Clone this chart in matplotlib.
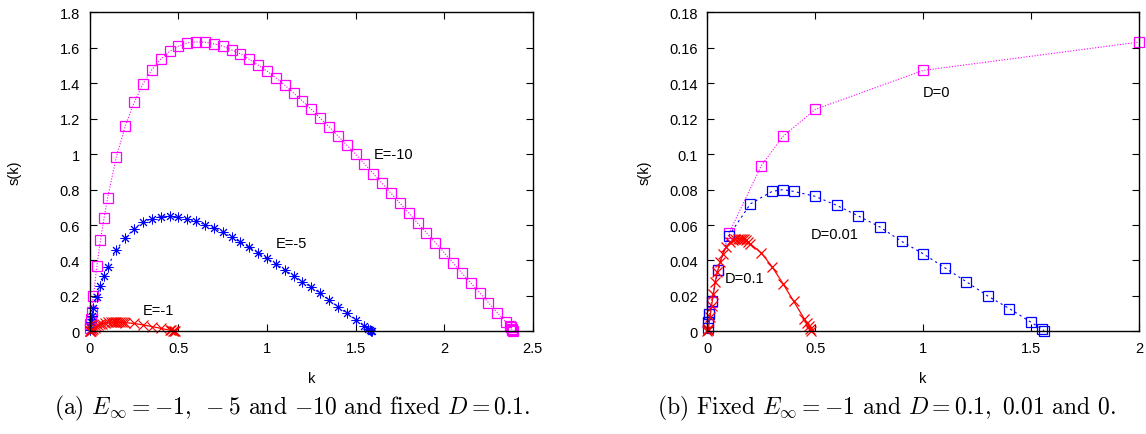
import numpy as np
import matplotlib
matplotlib.use('Agg')
import matplotlib.pyplot as plt

plt.rcParams['font.family'] = ['Liberation Sans', 'DejaVu Sans']
plt.rcParams['mathtext.fontset'] = 'cm'

# ---- panel (a): E = -1, -5, -10 with D = 0.1 ----
k_e10 = [0.001, 0.002, 0.005, 0.01, 0.02, 0.04, 0.06, 0.08, 0.1,
         0.15, 0.2, 0.25, 0.3, 0.35, 0.4, 0.45, 0.5, 0.55, 0.6, 0.65, 0.7,
         0.75, 0.8, 0.85, 0.9, 0.95, 1.0, 1.05, 1.1, 1.15, 1.2, 1.25, 1.3,
         1.35, 1.4, 1.45, 1.5, 1.55, 1.6, 1.65, 1.7, 1.75, 1.8, 1.85, 1.9,
         1.95, 2.0, 2.05, 2.1, 2.15, 2.2, 2.25, 2.3, 2.35,
         2.37, 2.375, 2.38, 2.385, 2.39]
s_e10 = [0.02, 0.04, 0.07, 0.11, 0.2, 0.37, 0.515, 0.64, 0.752,
         0.986, 1.159, 1.292, 1.397, 1.478, 1.537, 1.580, 1.610, 1.629,
         1.634, 1.632, 1.623, 1.610, 1.589, 1.567, 1.535, 1.503, 1.469,
         1.431, 1.390, 1.345, 1.300, 1.253, 1.204, 1.155, 1.104, 1.051,
         0.999, 0.946, 0.890, 0.835, 0.779, 0.724, 0.668, 0.611, 0.557,
         0.500, 0.444, 0.387, 0.329, 0.273, 0.218, 0.162, 0.105, 0.051,
         0.030, 0.022, 0.014, 0.007, 0.001]

k_e5 = [0.001, 0.002, 0.005, 0.01, 0.02, 0.04, 0.06, 0.08, 0.1,
        0.15, 0.2, 0.25, 0.3, 0.35, 0.4, 0.45, 0.5, 0.55, 0.6, 0.65, 0.7,
        0.75, 0.8, 0.85, 0.9, 0.95, 1.0, 1.05, 1.1, 1.15, 1.2, 1.25, 1.3,
        1.35, 1.4, 1.45, 1.5, 1.55, 1.57, 1.58, 1.585, 1.59]
s_e5 = [0.01, 0.025, 0.05, 0.085, 0.13, 0.195, 0.256, 0.314, 0.365,
        0.461, 0.526, 0.580, 0.616, 0.636, 0.648, 0.651, 0.644, 0.634,
        0.621, 0.602, 0.584, 0.559, 0.531, 0.503, 0.474, 0.443, 0.412,
        0.380, 0.347, 0.314, 0.281, 0.248, 0.215, 0.175, 0.139, 0.102,
        0.065, 0.030, 0.014, 0.007, 0.003, 0.0]

# E = -1, D = 0.1 (same run in both panels)
k_d01 = [0.0005, 0.001, 0.002, 0.005, 0.0125, 0.02, 0.028, 0.036, 0.046,
         0.059, 0.071, 0.087, 0.105, 0.12, 0.13, 0.14, 0.15, 0.16, 0.17,
         0.18, 0.19, 0.2, 0.25, 0.3, 0.35, 0.4, 0.45, 0.46, 0.47, 0.475, 0.48]
s_d01 = [0.0003, 0.0006, 0.0009, 0.0015, 0.0079, 0.0145, 0.0211, 0.0276,
         0.0333, 0.039, 0.0436, 0.0474, 0.0502, 0.0515, 0.052, 0.0523,
         0.0524, 0.0523, 0.052, 0.0515, 0.0505, 0.0493, 0.0443, 0.0365,
         0.027, 0.0170, 0.0069, 0.0048, 0.0028, 0.0015, 0.0002]

# ---- panel (b): E = -1 with D = 0.1, 0.01, 0 ----
k_d001 = [0.002, 0.005, 0.01, 0.02, 0.05, 0.1, 0.2, 0.3, 0.35, 0.4, 0.5,
          0.6, 0.7, 0.8, 0.9, 1.0, 1.1, 1.2, 1.3, 1.4, 1.5, 1.55, 1.56]
s_d001 = [0.002, 0.005, 0.0098, 0.017, 0.0345, 0.054, 0.072, 0.079, 0.080,
          0.079, 0.0762, 0.0711, 0.0651, 0.0589, 0.0508, 0.0438, 0.0359,
          0.028, 0.0199, 0.0128, 0.0051, 0.0013, 0.0004]

k_d0 = [0.005, 0.01, 0.02, 0.05, 0.1, 0.25, 0.35, 0.5, 1.0, 2.0]
s_d0 = [0.005, 0.0098, 0.0167, 0.0348, 0.0553, 0.0935, 0.110, 0.1253,
        0.1473, 0.1633]

yticks_a = [0, 0.2, 0.4, 0.6, 0.8, 1, 1.2, 1.4, 1.6, 1.8]
xticks_a = [0, 0.5, 1, 1.5, 2, 2.5]
yticks_b = [0, 0.02, 0.04, 0.06, 0.08, 0.1, 0.12, 0.14, 0.16, 0.18]
xticks_b = [0, 0.5, 1, 1.5, 2]

MAG = '#ff00ff'
BLUE = '#0000ff'
RED = '#ff0000'
asterisk = (8, 2, 0)

fig = plt.figure(figsize=(11.46, 4.35), dpi=100)
ax1 = fig.add_axes([0.0784, 0.236, 0.3865, 0.733])
ax2 = fig.add_axes([0.6172, 0.236, 0.3767, 0.733])


def style_axes(ax, xticks, yticks):
    ax.set_xticks(xticks)
    ax.set_yticks(yticks)
    ax.set_xticklabels(['%g' % t for t in xticks])
    ax.set_yticklabels(['%g' % t for t in yticks])
    ax.tick_params(direction='in', length=5, width=0.8, top=True, right=True,
                   labelsize=10.5, pad=7)
    for sp in ax.spines.values():
        sp.set_linewidth(1.0)
    ax.set_xlabel('k', fontsize=10.5)
    ax.set_ylabel('s(k)', fontsize=10.5)


# panel (a)
ax1.plot(k_e10, s_e10, color=MAG, ls=(0, (1, 1.5)), lw=0.8, marker='s',
         ms=7, mfc='none', mew=0.9, clip_on=False)
ax1.plot(k_e5, s_e5, color=BLUE, ls=(0, (2, 3)), lw=0.8, marker=asterisk,
         ms=7, mew=0.7, clip_on=False)
ax1.plot(k_d01, s_d01, color=RED, ls='-', lw=0.9, marker='x',
         ms=6.5, mew=0.8, clip_on=False)
ax1.set_xlim(0, 2.5)
ax1.set_ylim(0, 1.8)
style_axes(ax1, xticks_a, yticks_a)
ax1.yaxis.set_label_coords(-0.155, 0.5)
ax1.xaxis.set_label_coords(0.5, -0.125)
ax1.text(1.6, 1.0, 'E=-10', fontsize=10.5, va='center')
ax1.text(1.05, 0.5, 'E=-5', fontsize=10.5, va='center')
ax1.text(0.3, 0.12, 'E=-1', fontsize=10.5, va='center')

# panel (b)
ax2.plot(k_d0, s_d0, color=MAG, ls=(0, (1, 1.5)), lw=0.8, marker='s',
         ms=7, mfc='none', mew=0.9, clip_on=False)
ax2.plot(k_d001, s_d001, color=BLUE, ls=(0, (2, 3)), lw=0.8, marker='s',
         ms=7, mfc='none', mew=0.9, clip_on=False)
ax2.plot(k_d01, s_d01, color=RED, ls='-', lw=0.9, marker='x',
         ms=7.5, mew=0.9, clip_on=False)
ax2.set_xlim(0, 2)
ax2.set_ylim(0, 0.18)
style_axes(ax2, xticks_b, yticks_b)
ax2.yaxis.set_label_coords(-0.128, 0.5)
ax2.xaxis.set_label_coords(0.5, -0.125)
ax2.text(1.0, 0.135, 'D=0', fontsize=10.5, va='center')
ax2.text(0.48, 0.055, 'D=0.01', fontsize=10.5, va='center')
ax2.text(0.082, 0.030, 'D=0.1', fontsize=10.5, va='center')

# captions
fig.text(0.255, 0.06,
         r'(a) $E_\infty = -1,\ -5$ and $-10$ and fixed $D = 0.1$.',
         ha='center', va='center', fontsize=17, family='cmr10')
fig.text(0.774, 0.06,
         r'(b) Fixed $E_\infty = -1$ and $D = 0.1,\ 0.01$ and $0$.',
         ha='center', va='center', fontsize=17, family='cmr10')

fig.savefig('out.png', dpi=100)
